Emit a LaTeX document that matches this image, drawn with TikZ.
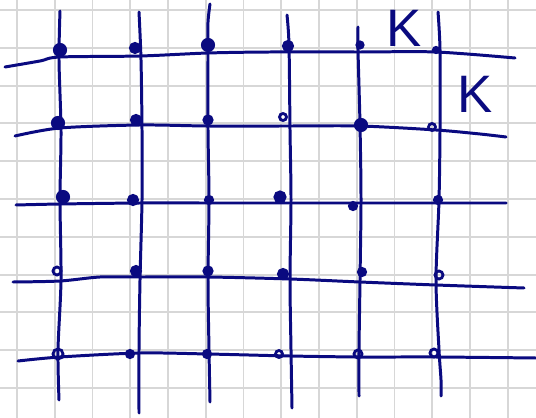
\documentclass[tikz,border=0pt]{standalone}
\usepackage{fontspec}
\setsansfont{Liberation Sans}
\usepackage{tikz}

\definecolor{ink}{RGB}{10,10,128}
\definecolor{paperline}{RGB}{215,215,215}

\begin{document}
\begin{tikzpicture}[
  x=0.02cm, y=-0.02cm,
  paper/.style={draw=paperline, line width=1.1pt},
  stroke/.style={draw=ink, line width=1.7pt, line cap=round, line join=round},
  bigdot/.style={fill=ink, draw=ink, line width=1.2pt},
  ring/.style={draw=ink, line width=1.6pt, fill=none},
  letter/.style={text=ink, font=\sffamily\fontsize{30}{30}\selectfont, inner sep=0pt}
]
  % sheet
  \useasboundingbox (0,0) rectangle (536,418);
  \fill[white] (0,0) rectangle (536,418);
  \foreach \k in {0,...,14}
    \draw[paper] ({17+37.75*\k},0) -- ({17+37.75*\k},418);
  \foreach \k in {0,...,10}
    \draw[paper] (0,{10+37.8*\k}) -- (536,{10+37.8*\k});

  % vertical strokes
  \draw[stroke] plot[smooth] coordinates {(60,11) (59,60) (61,130) (60,200) (61,280) (58,350) (59,400)};
  \draw[stroke] plot[smooth] coordinates {(139,12) (141,60) (142,130) (142,200) (140,280) (139,350) (139,413)};
  \draw[stroke] plot[smooth] coordinates {(210,4) (208,22) (208,50) (208,130) (209,200) (208,280) (209,350) (210,402)};
  \draw[stroke] plot[smooth] coordinates {(287,15) (289,45) (290,130) (291,200) (290,280) (291,350) (292,408)};
  \draw[stroke] plot[smooth] coordinates {(358,27) (358,50) (360,125) (361,200) (360,280) (359,350) (359,396)};
  \draw[stroke] plot[smooth] coordinates {(438,12) (440,50) (440,130) (439,200) (436,280) (439,350) (441,380) (441,396)};

  % horizontal strokes
  \draw[stroke] plot[smooth] coordinates {(5,67) (40,61) (60,57) (140,56) (208,53) (270,52) (360,52) (436,52) (515,58)};
  \draw[stroke] plot[smooth] coordinates {(15,136) (60,128) (140,125) (208,126) (290,126) (360,126) (436,130) (480,134) (506,137)};
  \draw[stroke] plot[smooth] coordinates {(16,205) (60,204) (140,203) (208,203) (290,203) (360,203) (436,203) (506,203)};
  \draw[stroke] plot[smooth] coordinates {(13,282) (60,281) (100,277) (140,277) (208,277) (290,279) (360,282) (436,285) (524,288)};
  \draw[stroke] plot[smooth] coordinates {(18,361) (60,357) (140,353) (208,354) (290,356) (360,357) (436,357) (536,358)};

  % marks, row by row
  \path[bigdot] (60,50) circle (6);   \path[bigdot] (135,48) circle (5);
  \path[bigdot] (208,45) circle (6);  \path[bigdot] (288,46) circle (5);
  \path[bigdot] (360,45) circle (3.5);\path[bigdot] (436,50) circle (3);

  \path[bigdot] (58,123) circle (6);  \path[bigdot] (136,120) circle (5);
  \path[bigdot] (208,120) circle (4.5);\path[ring] (283,117) circle (3.5);
  \path[bigdot] (361,125) circle (6); \path[ring] (432,127) circle (3.5);

  \path[bigdot] (63,197) circle (6);  \path[bigdot] (133,200) circle (5);
  \path[bigdot] (209,200) circle (4); \path[bigdot] (280,197) circle (5.5);
  \path[bigdot] (353,206) circle (4); \path[bigdot] (438,200) circle (4);

  \path[ring] (57,271) circle (4);    \path[bigdot] (136,271) circle (5);
  \path[bigdot] (208,271) circle (4.5);\path[bigdot] (283,274) circle (5);
  \path[bigdot] (362,272) circle (4); \path[ring] (439,275) circle (4);

  \path[ring] (58,354) circle (5);    \path[bigdot] (130,354) circle (4);
  \path[bigdot] (207,354) circle (4); \path[ring] (279,354) circle (3.5);
  \path[ring] (358,354) circle (4);   \path[ring] (434,353) circle (4);

  % labels
  \node[letter] (kTop) at (404,28) {K};
  \node[letter] (kSide) at (475,94) {K};
\end{tikzpicture}
\end{document}
